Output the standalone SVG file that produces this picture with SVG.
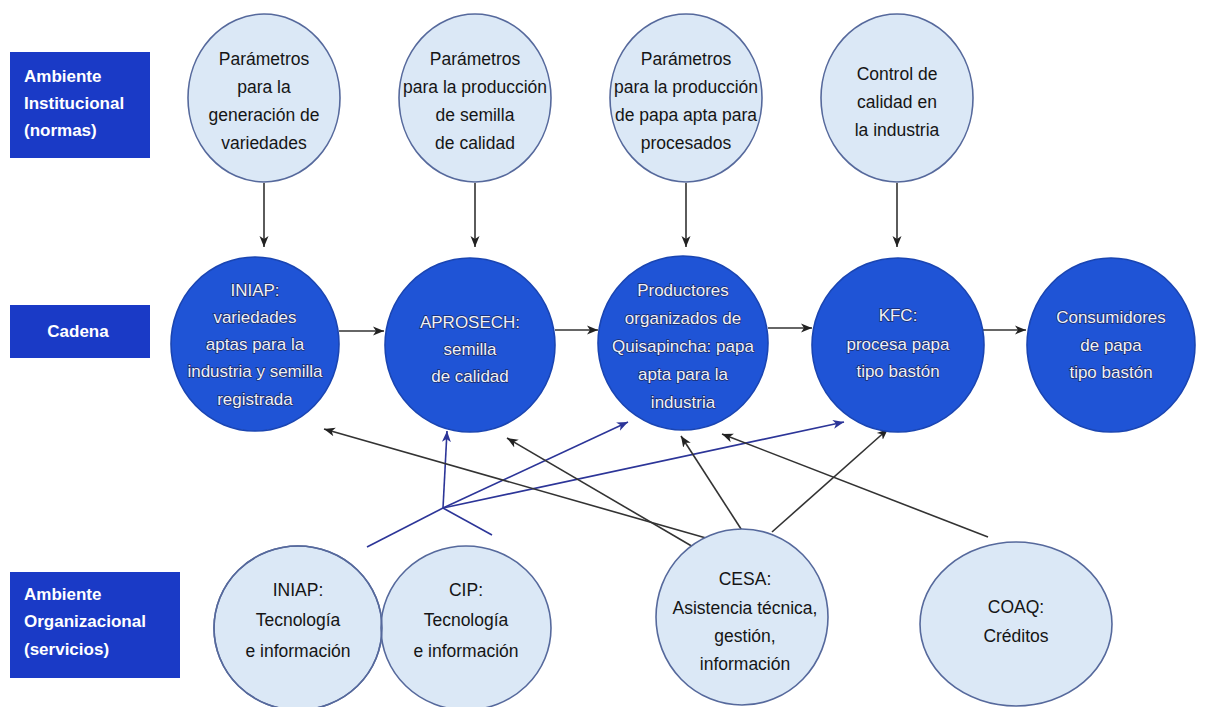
<svg xmlns="http://www.w3.org/2000/svg" width="1205" height="707" viewBox="0 0 1205 707">
<style>
.box{fill:#1a3ac6}
.boxt{fill:#fff;font-family:"Liberation Sans",Arial,sans-serif;font-weight:bold;font-size:17px}
.light{fill:#dbe8f6;stroke:#56699c;stroke-width:1.6}
.outline{fill:none;stroke:#56699c;stroke-width:1.6}
.dark{fill:#1f54d6;stroke:#1a45b2;stroke-width:1.6}
.lt{fill:#151515;font-family:"Liberation Sans",Arial,sans-serif;font-size:17.5px;text-anchor:middle}
.dt{fill:#eef2fb;stroke:#1b2a66;stroke-width:1.4;paint-order:stroke;font-family:"Liberation Sans",Arial,sans-serif;font-size:17px;text-anchor:middle}
.ln{stroke:#333;stroke-width:1.6;fill:none}
.bl{stroke:#2c3598;stroke-width:1.6;fill:none}
</style>
<defs>
<marker id="ah" markerUnits="userSpaceOnUse" markerWidth="12" markerHeight="12" refX="11" refY="6" orient="auto"><path d="M0,1.5 L11,6 L0,10.5 L3,6 z" fill="#222"/></marker>
<marker id="ahb" markerUnits="userSpaceOnUse" markerWidth="12" markerHeight="12" refX="11" refY="6" orient="auto"><path d="M0,1.5 L11,6 L0,10.5 L3,6 z" fill="#2c3598"/></marker>
</defs>
<rect width="1205" height="707" fill="#fff"/>

<g id="lbl-institucional"><rect class="box" x="10" y="52" width="140" height="106"/>
<text class="boxt" x="24" y="82">Ambiente</text><text class="boxt" x="24" y="109">Institucional</text><text class="boxt" x="24" y="136">(normas)</text></g>
<g id="lbl-cadena"><rect class="box" x="10" y="305" width="140" height="53"/>
<text class="boxt" x="78" y="337" text-anchor="middle">Cadena</text></g>
<g id="lbl-organizacional"><rect class="box" x="10" y="572" width="170" height="106"/>
<text class="boxt" x="24" y="600">Ambiente</text><text class="boxt" x="24" y="627">Organizacional</text><text class="boxt" x="24" y="655">(servicios)</text></g>

<g id="connectors">
<line class="ln" x1="264" y1="183" x2="264" y2="247" marker-end="url(#ah)"/>
<line class="ln" x1="475" y1="183" x2="475" y2="247" marker-end="url(#ah)"/>
<line class="ln" x1="686" y1="183" x2="686" y2="247" marker-end="url(#ah)"/>
<line class="ln" x1="897" y1="183" x2="897" y2="247" marker-end="url(#ah)"/>
<line class="ln" x1="339" y1="331" x2="384" y2="331" marker-end="url(#ah)"/>
<line class="ln" x1="555" y1="330" x2="598" y2="330" marker-end="url(#ah)"/>
<line class="ln" x1="768" y1="328" x2="812" y2="328" marker-end="url(#ah)"/>
<line class="ln" x1="983" y1="330" x2="1026" y2="330" marker-end="url(#ah)"/>
<line class="bl" x1="367" y1="547" x2="443" y2="508"/>
<line class="bl" x1="492" y1="535" x2="443" y2="508"/>
<line class="bl" x1="443" y1="508" x2="447" y2="431" marker-end="url(#ahb)"/>
<line class="bl" x1="443" y1="508" x2="628" y2="422" marker-end="url(#ahb)"/>
<line class="bl" x1="443" y1="508" x2="844" y2="422" marker-end="url(#ahb)"/>
<line class="ln" x1="720" y1="542" x2="324" y2="429" marker-end="url(#ah)"/>
<line class="ln" x1="695" y1="548" x2="507" y2="438" marker-end="url(#ah)"/>
<line class="ln" x1="743" y1="532" x2="681" y2="436" marker-end="url(#ah)"/>
<line class="ln" x1="772" y1="532" x2="888" y2="429" marker-end="url(#ah)"/>
<line class="ln" x1="988" y1="537" x2="722" y2="434" marker-end="url(#ah)"/>
</g>

<g id="n-param-variedades"><ellipse class="light" cx="264" cy="98" rx="76" ry="84"/>
<text class="lt" x="264" y="65">Parámetros</text><text class="lt" x="264" y="93">para la</text><text class="lt" x="264" y="121">generación de</text><text class="lt" x="264" y="149">variedades</text></g>
<g id="n-param-semilla"><ellipse class="light" cx="475" cy="98" rx="76" ry="84"/>
<text class="lt" x="475" y="65">Parámetros</text><text class="lt" x="475" y="93">para la producción</text><text class="lt" x="475" y="121">de semilla</text><text class="lt" x="475" y="149">de calidad</text></g>
<g id="n-param-papa"><ellipse class="light" cx="686" cy="98" rx="76" ry="84"/>
<text class="lt" x="686" y="65">Parámetros</text><text class="lt" x="686" y="93">para la producción</text><text class="lt" x="686" y="121">de papa apta para</text><text class="lt" x="686" y="149">procesados</text></g>
<g id="n-control"><ellipse class="light" cx="897" cy="98" rx="76" ry="84"/>
<text class="lt" x="897" y="80">Control de</text><text class="lt" x="897" y="108">calidad en</text><text class="lt" x="897" y="136">la industria</text></g>

<g id="n-iniap-cadena"><ellipse class="dark" cx="255" cy="344" rx="84" ry="87"/>
<text class="dt" x="255" y="296">INIAP:</text><text class="dt" x="255" y="323">variedades</text><text class="dt" x="255" y="350">aptas para la</text><text class="dt" x="255" y="377">industria y semilla</text><text class="dt" x="255" y="405">registrada</text></g>
<g id="n-aprosech"><ellipse class="dark" cx="470" cy="345" rx="85" ry="87"/>
<text class="dt" x="470" y="328">APROSECH:</text><text class="dt" x="470" y="355">semilla</text><text class="dt" x="470" y="382">de calidad</text></g>
<g id="n-productores"><ellipse class="dark" cx="683" cy="343" rx="85" ry="87"/>
<text class="dt" x="683" y="296">Productores</text><text class="dt" x="683" y="324">organizados de</text><text class="dt" x="683" y="352">Quisapincha: papa</text><text class="dt" x="683" y="380">apta para la</text><text class="dt" x="683" y="408">industria</text></g>
<g id="n-kfc"><ellipse class="dark" cx="898" cy="345" rx="86" ry="87"/>
<text class="dt" x="898" y="321">KFC:</text><text class="dt" x="898" y="350">procesa papa</text><text class="dt" x="898" y="377">tipo bastón</text></g>
<g id="n-consumidores"><ellipse class="dark" cx="1111" cy="345" rx="84" ry="87"/>
<text class="dt" x="1111" y="323">Consumidores</text><text class="dt" x="1111" y="351">de papa</text><text class="dt" x="1111" y="378">tipo bastón</text></g>

<g id="n-iniap-serv"><ellipse class="light" cx="298" cy="628" rx="84" ry="82"/>
<text class="lt" x="298" y="596">INIAP:</text><text class="lt" x="298" y="626">Tecnología</text><text class="lt" x="298" y="657">e información</text></g>
<g id="n-cip"><ellipse class="light" cx="466" cy="628" rx="85" ry="82"/>
<ellipse class="outline" cx="298" cy="628" rx="84" ry="82"/>
<text class="lt" x="466" y="596">CIP:</text><text class="lt" x="466" y="626">Tecnología</text><text class="lt" x="466" y="657">e información</text></g>
<g id="n-cesa"><ellipse class="light" cx="742" cy="617" rx="86" ry="88"/>
<text class="lt" x="745" y="585">CESA:</text><text class="lt" x="745" y="614">Asistencia técnica,</text><text class="lt" x="745" y="642">gestión,</text><text class="lt" x="745" y="670">información</text></g>
<g id="n-coaq"><ellipse class="light" cx="1016" cy="624" rx="96" ry="82"/>
<text class="lt" x="1016" y="613">COAQ:</text><text class="lt" x="1016" y="642">Créditos</text></g>
</svg>
